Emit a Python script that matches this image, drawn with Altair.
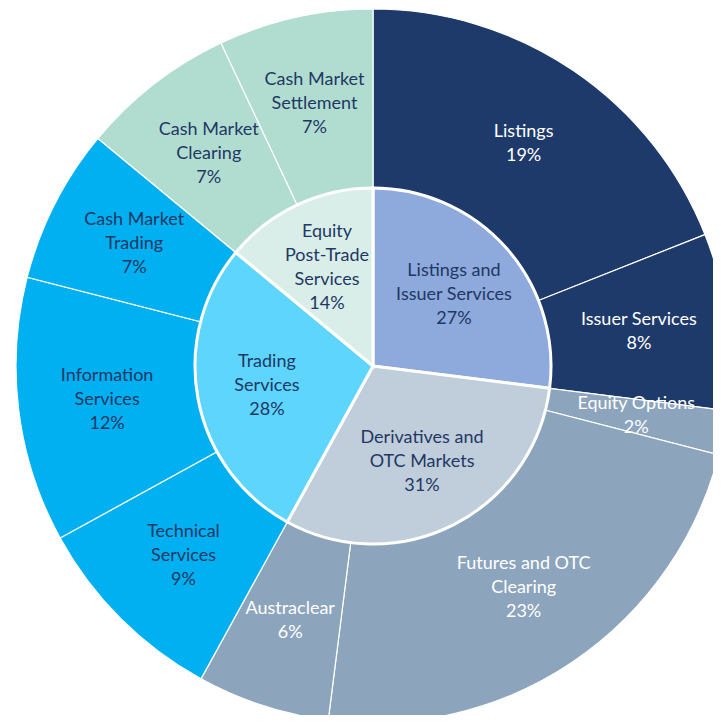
import altair as alt
import pandas as pd

# ---- data ----
inner_labels = ["Listings and\nIssuer Services", "Derivatives and\nOTC Markets",
                "Trading\nServices", "Equity\nPost-Trade\nServices"]
inner_values = [27, 31, 28, 14]

outer_labels = ["Listings", "Issuer Services", "Equity Options",
                "Futures and OTC\nClearing", "Austraclear", "Technical\nServices",
                "Information\nServices", "Cash Market\nTrading", "Cash Market\nClearing",
                "Cash Market\nSettlement"]
outer_values = [19, 8, 2, 23, 6, 9, 12, 7, 7, 7]

# ---- styles ----
inner_colors = ["#8EA9DB", "#C0CDDA", "#5DD5FD", "#D9EEE8"]
outer_colors = ["#1E3A6B", "#1E3A6B", "#8DA4BD", "#8DA4BD", "#8DA4BD",
                "#00B0F0", "#00B0F0", "#00B0F0", "#B1DDD0", "#B1DDD0"]
NAVY = "#1F3864"
inner_text_colors = [NAVY] * 4
outer_text_colors = ["#FFFFFF"] * 5 + [NAVY] * 5

CX, CY = 365, 358
R_OUT, R_IN = 357, 178
FONT = "Lato"
FS = 18
LH = 24


def frame(labels, values):
    df = pd.DataFrame({"idx": list(range(len(labels))), "name": labels, "value": values})
    df["text"] = df["name"] + "\n" + df["value"].astype(str) + "%"
    df["lines"] = df["text"].str.count("\n") + 1
    return df


inner_df = frame(inner_labels, inner_values)
outer_df = frame(outer_labels, outer_values)

pos = dict(x=alt.value(CX), y=alt.value(CY))


def arcs(df, labels, colors, **mark):
    return alt.Chart(df).mark_arc(stroke="white", **mark).encode(
        theta=alt.Theta("value:Q", stack=True),
        order=alt.Order("idx:Q"),
        color=alt.Color("name:N", scale=alt.Scale(domain=labels, range=colors), legend=None),
        **pos,
    )


def texts(df, labels, tcolors, radius):
    layers = []
    for n in sorted(df["lines"].unique()):
        layers.append(
            alt.Chart(df)
            .transform_window(cum="sum(value)", sort=[alt.SortField("idx")], frame=[None, 0])
            .transform_calculate(mid="datum.cum - datum.value / 2")
            .transform_filter(f"datum.lines == {int(n)}")
            .mark_text(radius=radius, dy=-(int(n) - 1) * LH / 2, font=FONT, fontSize=FS,
                       lineBreak="\n", lineHeight=LH, align="center", baseline="middle")
            .encode(
                theta=alt.Theta("mid:Q", scale=alt.Scale(domain=[0, 100])),
                text="text:N",
                color=alt.Color("name:N", scale=alt.Scale(domain=labels, range=tcolors), legend=None),
                **pos,
            )
        )
    return layers


outer_arc = arcs(outer_df, outer_labels, outer_colors, radius=R_OUT, radius2=R_IN, strokeWidth=1.2)
inner_arc = arcs(inner_df, inner_labels, inner_colors, radius=R_IN, strokeWidth=3)

layers = [outer_arc, inner_arc]
layers += texts(outer_df, outer_labels, outer_text_colors, 268)
layers += texts(inner_df, inner_labels, inner_text_colors, 108)

chart = alt.layer(*layers).resolve_scale(
    color="independent", theta="independent"
).properties(
    width=705, height=707,
    autosize=alt.AutoSizeParams(type="none"),
    padding=0,
).configure_view(stroke=None)

chart.save("out.html", embed_options={"renderer": "svg", "actions": False})
